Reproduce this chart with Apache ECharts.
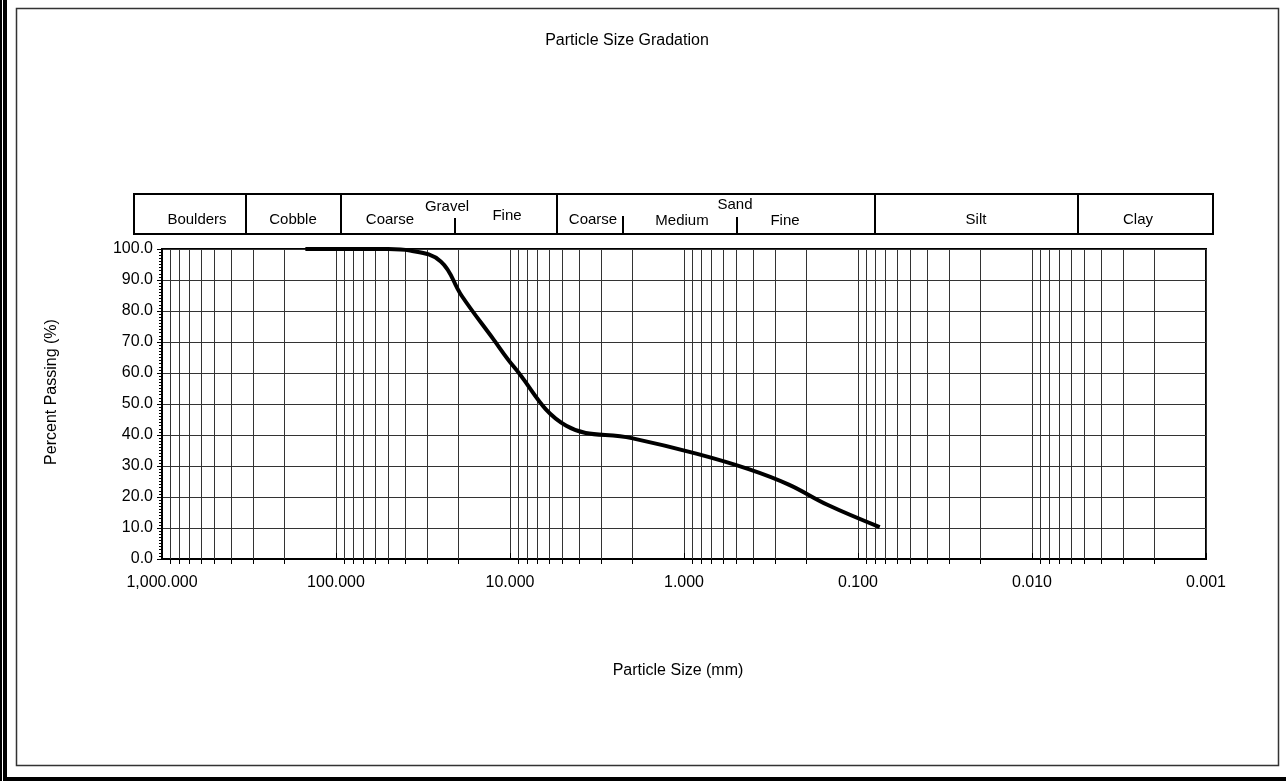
<!DOCTYPE html>
<html>
<head>
<meta charset="utf-8">
<script src="https://cdn.jsdelivr.net/npm/echarts@6/dist/echarts.min.js"></script>
<style>
  html, body { margin: 0; padding: 0; background: #ffffff; }
  #chart { width: 1286px; height: 781px; }
</style>
</head>
<body>
<div id="chart"></div>
<script>
// Sieve analysis: particle size (mm) and percent passing
const sieveSizes = [150, 75, 50, 37.5, 25, 19, 12.5, 9.5, 4.75, 2.0, 0.85, 0.425, 0.25, 0.15, 0.075];
const percentPassing = [100, 100, 100, 99.5, 96, 85, 71, 62, 43, 39, 34, 29, 24, 17.5, 10.3];

// Log axis decades and the in-decade multipliers used for the minor grid
const decades = [100, 10, 1, 0.1, 0.01, 0.001];
const minorMultipliers = [2, 3, 4, 5, 6, 7, 8, 9];

// Soil classification band labels
const bandMain = ['Boulders', 'Cobble', 'Gravel', 'Sand', 'Silt', 'Clay'];
const gravelParts = ['Coarse', 'Fine'];
const sandParts = ['Coarse', 'Medium', 'Fine'];

const FONT = '"Liberation Sans", Arial, sans-serif';

const minorGridValues = [];
decades.forEach(d => minorMultipliers.forEach(m => minorGridValues.push([d * m, 0])));

function fmtSize(v) {
  return Number(v).toLocaleString('en-US', { minimumFractionDigits: 3, maximumFractionDigits: 3 });
}

// Classification band layout (pixels)
const band = { x0: 134, x1: 1213, y0: 194, y1: 234 };
const fullDividers = [246, 341, 557, 875, 1078];
const shortDividers = [[455, 218], [623, 216], [737, 217]];
const bandLabels = [
  [bandMain[0], 197, 220], [bandMain[1], 293, 220],
  [gravelParts[0], 390, 220], [bandMain[2], 447, 207], [gravelParts[1], 507, 216],
  [sandParts[0], 593, 220], [sandParts[1], 682, 221], [bandMain[3], 735, 205], [sandParts[2], 785, 221],
  [bandMain[4], 976, 220], [bandMain[5], 1138, 220]
];

const graphics = [
  // page frame
  { type: 'rect', shape: { x: 0, y: 0, width: 2, height: 781 }, style: { fill: '#000' } },
  { type: 'rect', shape: { x: 3, y: 0, width: 4, height: 781 }, style: { fill: '#000' } },
  { type: 'rect', shape: { x: 3, y: 777, width: 1283, height: 4 }, style: { fill: '#000' } },
  { type: 'rect', shape: { x: 16.5, y: 8.5, width: 1262, height: 757 }, style: { fill: null, stroke: '#333', lineWidth: 1.5 } },
  // title and axis names
  { type: 'text', x: 627, y: 41, style: { text: 'Particle Size Gradation', font: '16px ' + FONT, fill: '#000', align: 'center', verticalAlign: 'middle' } },
  { type: 'text', x: 678, y: 671, style: { text: 'Particle Size (mm)', font: '16px ' + FONT, fill: '#000', align: 'center', verticalAlign: 'middle' } },
  { type: 'text', x: 52, y: 392, rotation: Math.PI / 2, style: { text: 'Percent Passing (%)', font: '16px ' + FONT, fill: '#000', align: 'center', verticalAlign: 'middle' } },
  // classification band
  { type: 'rect', shape: { x: band.x0, y: band.y0, width: band.x1 - band.x0, height: band.y1 - band.y0 }, style: { fill: null, stroke: '#000', lineWidth: 2 } }
];
fullDividers.forEach(x => graphics.push({ type: 'line', shape: { x1: x, y1: band.y0, x2: x, y2: band.y1 }, style: { stroke: '#000', lineWidth: 2 } }));
shortDividers.forEach(([x, y]) => graphics.push({ type: 'line', shape: { x1: x, y1: y, x2: x, y2: band.y1 }, style: { stroke: '#000', lineWidth: 2 } }));
bandLabels.forEach(([t, x, y]) => graphics.push({ type: 'text', x: x, y: y, style: { text: t, font: '15px ' + FONT, fill: '#000', align: 'center', verticalAlign: 'middle' } }));

const chart = echarts.init(document.getElementById('chart'), null, { renderer: 'canvas' });
chart.setOption({
  backgroundColor: '#ffffff',
  animation: false,
  textStyle: { fontFamily: FONT },
  grid: { left: 162, right: 80, top: 249, bottom: 222, show: true, borderColor: '#000', borderWidth: 2, backgroundColor: 'transparent' },
  xAxis: {
    type: 'log', logBase: 10, min: 0.001, max: 1000, inverse: true, splitNumber: 6,
    axisLine: { show: true, lineStyle: { color: '#000', width: 2 } },
    axisTick: { show: true, inside: true, length: 6, lineStyle: { color: '#000', width: 1 } },
    axisLabel: { color: '#000', fontSize: 16, margin: 16, formatter: fmtSize },
    splitLine: { show: true, lineStyle: { color: '#333', width: 1 } },
    minorTick: { show: false }, minorSplitLine: { show: false }
  },
  yAxis: {
    type: 'value', min: 0, max: 100, interval: 10,
    axisLine: { show: true, lineStyle: { color: '#000', width: 2 } },
    axisTick: { show: true, length: 5, lineStyle: { color: '#000', width: 1 } },
    minorTick: { show: true, splitNumber: 10, length: 3, lineStyle: { color: '#000', width: 1 } },
    axisLabel: { color: '#000', fontSize: 16, margin: 9, formatter: v => v.toFixed(1) },
    splitLine: { show: true, lineStyle: { color: '#333', width: 1 } }
  },
  graphic: graphics,
  series: [
    {
      name: 'minor grid',
      type: 'custom',
      silent: true,
      z: 1,
      clip: false,
      data: minorGridValues,
      renderItem: function (params, api) {
        const v = api.value(0);
        const top = api.coord([v, 100]);
        const bot = api.coord([v, 0]);
        const x = Math.round(top[0]) + 0.5;
        return {
          type: 'group',
          children: [
            { type: 'line', shape: { x1: x, y1: top[1], x2: x, y2: bot[1] }, style: { stroke: '#333', lineWidth: 1 } },
            { type: 'line', shape: { x1: x, y1: bot[1], x2: x, y2: bot[1] + 5 }, style: { stroke: '#000', lineWidth: 1 } }
          ]
        };
      }
    },
    {
      name: 'Percent Passing',
      type: 'line',
      z: 5,
      data: sieveSizes.map((s, i) => [s, percentPassing[i]]),
      smooth: 0.4,
      showSymbol: false,
      symbol: 'none',
      lineStyle: { color: '#000', width: 4 }
    }
  ]
});
</script>
</body>
</html>
